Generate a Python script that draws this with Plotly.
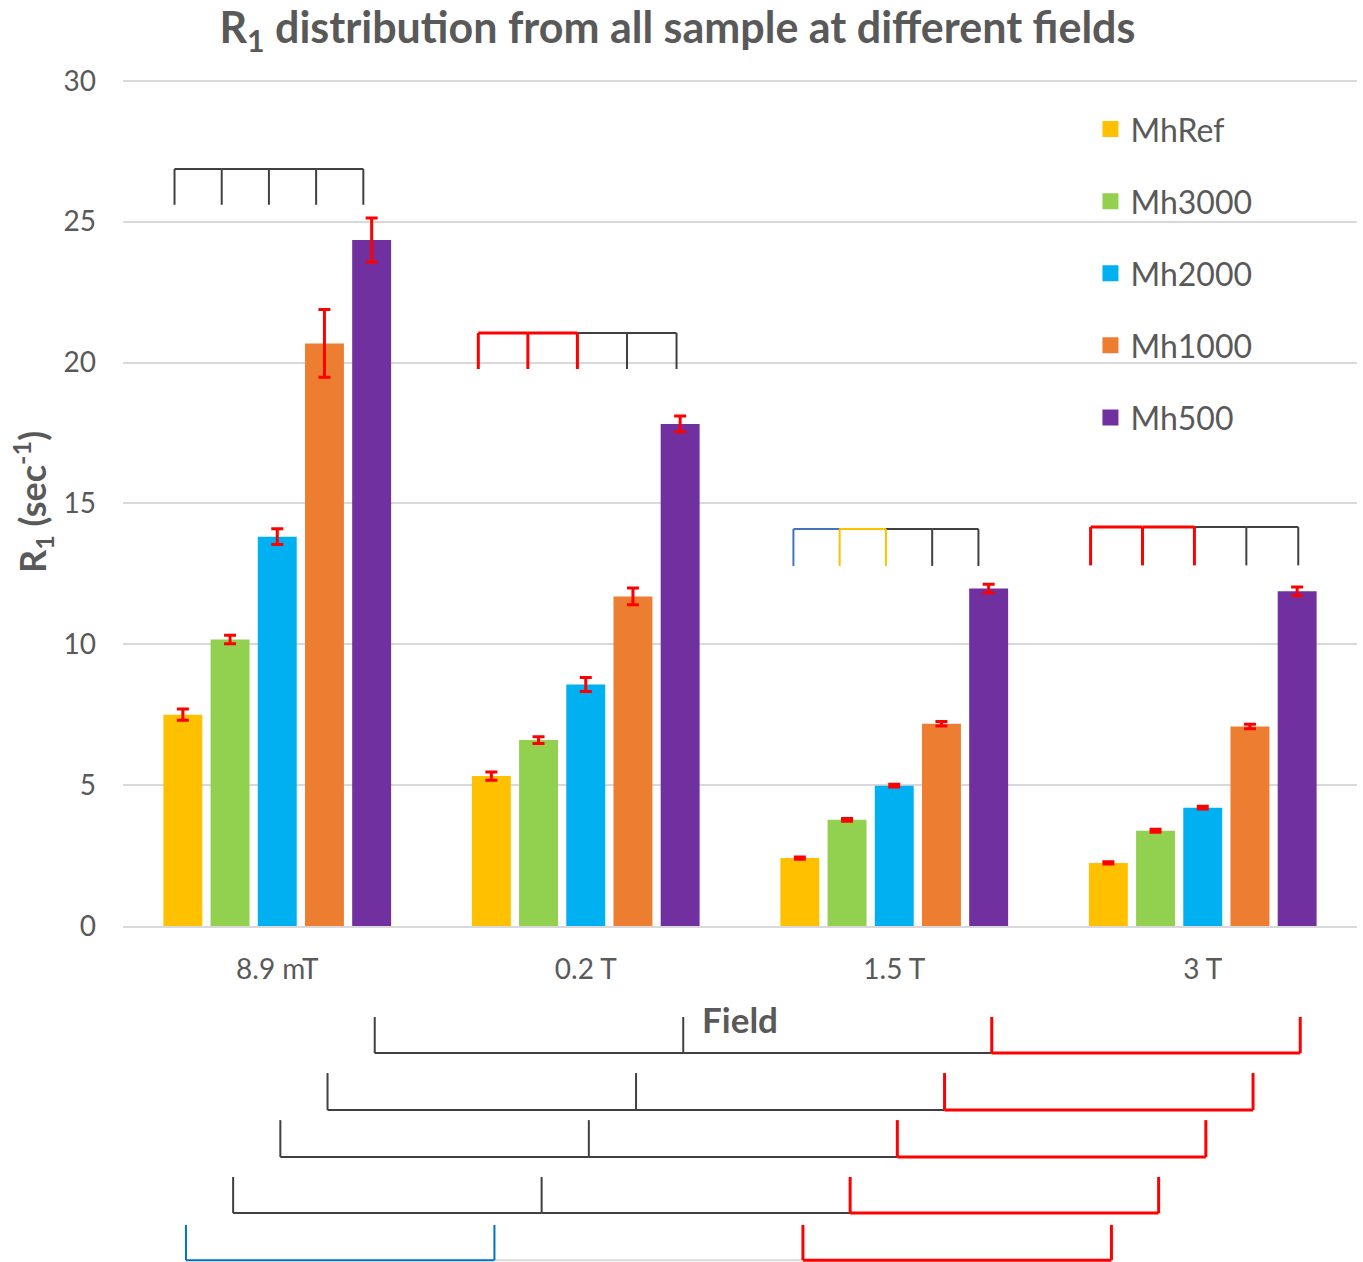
import plotly.graph_objects as go

# ---- data ----
categories = ["8.9 mT", "0.2 T", "1.5 T", "3 T"]
series_names = ["MhRef", "Mh3000", "Mh2000", "Mh1000", "Mh500"]
series_colors = ["#FFC000", "#92D050", "#00B0F0", "#ED7D31", "#7030A0"]

MhRef = [7.5, 5.32, 2.41, 2.24]
Mh3000 = [10.17, 6.6, 3.77, 3.38]
Mh2000 = [13.82, 8.57, 4.98, 4.2]
Mh1000 = [20.68, 11.7, 7.18, 7.08]
Mh500 = [24.35, 17.82, 11.98, 11.88]

err_MhRef = [0.2, 0.15, 0.04, 0.04]
err_Mh3000 = [0.15, 0.12, 0.05, 0.05]
err_Mh2000 = [0.28, 0.25, 0.05, 0.05]
err_Mh1000 = [1.2, 0.3, 0.08, 0.08]
err_Mh500 = [0.78, 0.28, 0.15, 0.15]

values = [MhRef, Mh3000, Mh2000, Mh1000, Mh500]
errors = [err_MhRef, err_Mh3000, err_Mh2000, err_Mh1000, err_Mh500]

BLACK = "#404040"
RED = "#FF0000"
BLUE = "#4472C4"
BLUE2 = "#0070C0"
YEL = "#FFC000"
LGRAY = "#D9D9D9"

# significance brackets above each group:
# (group, top value, leg bottom value, spread factor, segment colours, leg colours)
upper_brackets = [
    (0, 26.87, 25.6, 1.0, [BLACK] * 4, [BLACK] * 5),
    (1, 21.05, 19.77, 1.05, [RED, RED, BLACK, BLACK], [RED, RED, RED, BLACK, BLACK]),
    (2, 14.09, 12.78, 0.98, [BLUE, YEL, BLACK, BLACK], [BLUE, YEL, YEL, BLACK, BLACK]),
    (3, 14.16, 12.8, 1.1, [RED, RED, BLACK, BLACK], [RED, RED, RED, BLACK, BLACK]),
]
# brackets below chart (same series across fields):
# (series index, line value, leg top value, seg colours, leg colours)
lower_brackets = [
    (4, -4.51, -3.23, [BLACK, BLACK, RED], [BLACK, BLACK, RED, RED]),
    (3, -6.53, -5.22, [BLACK, BLACK, RED], [BLACK, BLACK, RED, RED]),
    (2, -8.20, -6.89, [BLACK, BLACK, RED], [BLACK, BLACK, RED, RED]),
    (1, -10.19, -8.91, [BLACK, BLACK, RED], [BLACK, BLACK, RED, RED]),
    (0, -11.86, -10.61, [BLUE2, LGRAY, RED], [BLUE2, BLUE2, RED, RED]),
]

BARGAP = 0.235
BARGROUPGAP = 0.175
YMAX = 30.1
slot = (1 - BARGAP) / len(series_names)


def bar_x(g, s, spread=1.0):
    return g + (s - (len(series_names) - 1) / 2) * slot * spread


fig = go.Figure()
for name, col, v, e in zip(series_names, series_colors, values, errors):
    fig.add_trace(go.Bar(
        x=categories, y=v, name=name, marker=dict(color=col, line=dict(width=0)),
        error_y=dict(type="data", array=e, color="#FF0000", thickness=3, width=6),
        showlegend=False,
    ))
    fig.add_trace(go.Scatter(
        x=[None], y=[None], mode="markers", name=name, legendgroup=name,
        marker=dict(symbol="square", size=20, color=col),
    ))

shapes = []
for g, top, bot, spread, segc, legc in upper_brackets:
    xs = [bar_x(g, s, spread) - 0.027 for s in range(5)]
    for i in range(4):
        w = 3 if segc[i] == RED else 2
        shapes.append(dict(type="line", xref="x", yref="y", x0=xs[i], x1=xs[i + 1], y0=top, y1=top,
                           line=dict(color=segc[i], width=w)))
    for i in range(5):
        w = 3 if legc[i] == RED else 2
        shapes.append(dict(type="line", xref="x", yref="y", x0=xs[i], x1=xs[i], y0=top, y1=bot,
                           line=dict(color=legc[i], width=w)))

for s, line_v, top_v, segc, legc in lower_brackets:
    xs = [bar_x(g, s) + 0.01 for g in range(4)]
    yl = line_v / YMAX
    yt = top_v / YMAX
    for i in range(3):
        w = 3 if segc[i] == RED else 2
        shapes.append(dict(type="line", xref="x", yref="paper", x0=xs[i], x1=xs[i + 1], y0=yl, y1=yl,
                           line=dict(color=segc[i], width=w)))
    for i in range(4):
        w = 3 if legc[i] == RED else 2
        shapes.append(dict(type="line", xref="x", yref="paper", x0=xs[i], x1=xs[i], y0=yl, y1=yt,
                           line=dict(color=legc[i], width=w)))

fig.update_layout(
    width=1363, height=1262,
    margin=dict(l=123, r=6, t=78, b=336),
    paper_bgcolor="white", plot_bgcolor="white",
    barmode="group", bargap=BARGAP, bargroupgap=BARGROUPGAP,
    font=dict(family="Lato, Open Sans, sans-serif", color="#595959"),
    title=dict(text="<b>R<sub>1</sub> distribution from all sample at different fields</b>",
               x=0.497, xref="container", xanchor="center", y=0.978, yanchor="middle",
               font=dict(size=43, color="#595959")),
    legend=dict(x=0.784, y=0.972, xanchor="left", yanchor="top", bgcolor="rgba(0,0,0,0)",
                font=dict(size=32, color="#595959"), tracegroupgap=27.5, itemsizing="trace"),
    shapes=shapes,
)
fig.update_yaxes(range=[0, YMAX], tickvals=[0, 5, 10, 15, 20, 25, 30], showgrid=True,
                 gridcolor="#D9D9D9", gridwidth=2,
                 zeroline=False, showline=False, ticks="", ticklabelstandoff=26,
                 tickfont=dict(size=28, color="#595959"),
                 title=dict(text="<b>R<sub>1</sub> (sec<sup>-1</sup>)</b>", font=dict(size=36, color="#595959"),
                            standoff=5))
fig.update_xaxes(showline=True, linecolor="#D9D9D9", linewidth=2, ticks="", ticklabelstandoff=17,
                 tickfont=dict(size=28, color="#595959"),
                 title=dict(text="<b>Field</b>", font=dict(size=35, color="#595959"), standoff=25))

fig.write_html("out.html")
